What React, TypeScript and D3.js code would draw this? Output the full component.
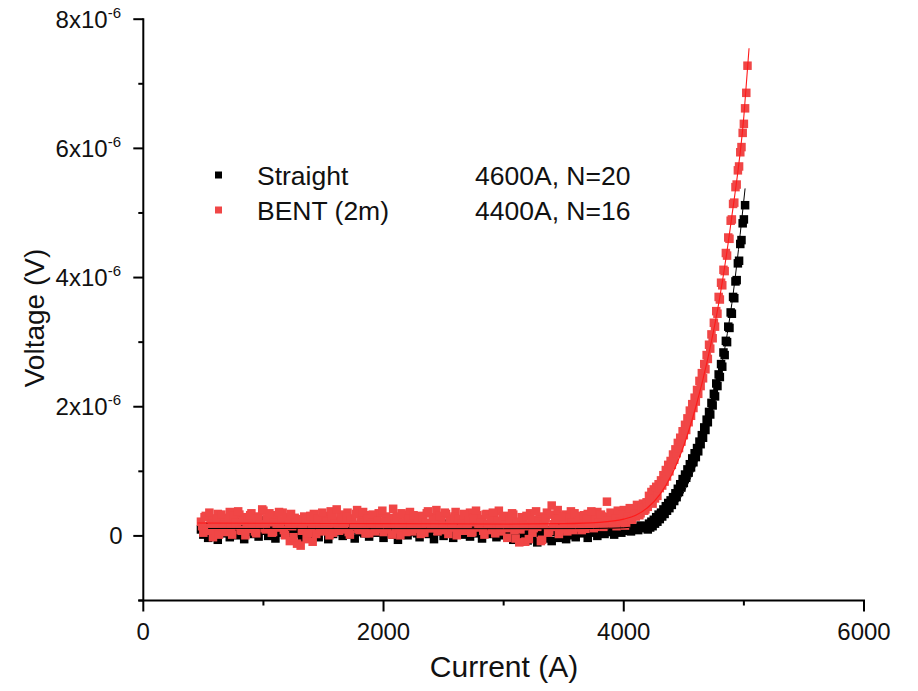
import React from "react";
import * as d3 from "d3";

// Sampling grid of the current sweep (A)
const lowCurrents: number[] = d3.range(480, 4200, 20);
const lowCurrents2: number[] = d3.range(490, 4200, 20);
const highCurrents: number[] = d3.range(4200, 5040, 10);

// Voltages in µV
const straightLow = [
  0.10, 0.02, 0.15, -0.03, 0.08, 0.20, 0.05, -0.06, 0.12, 0.04,
  0.18, 0.07, -0.02, 0.13, 0.22, 0.01, 0.09, 0.16, -0.05, 0.11,
  0.06, 0.19, 0.03, 0.14, -0.01, 0.24, 0.08, 0.12, 0.00, 0.17,
  0.10, -0.04, 0.15, 0.05, 0.21, 0.02, 0.11, 0.07, -0.07, 0.13,
  0.04, 0.18, -0.03, 0.09, 0.14, 0.01, 0.20, 0.06, 0.10, -0.02,
  0.16, 0.08, 0.12, -0.05, 0.19, 0.03, 0.11, 0.07, 0.23, 0.00,
  0.09, 0.14, 0.02, 0.17, -0.04, 0.10, 0.06, 0.21, 0.04, 0.13,
  -0.01, 0.11, 0.16, 0.05, 0.08, 0.19, -0.03, 0.12, 0.07, 0.15,
  0.02, 0.10, -0.06, 0.14, 0.09, 0.18, 0.01, 0.11, 0.06, 0.22,
  0.04, -0.02, 0.13, 0.08, 0.17, 0.03, 0.10, -0.05, 0.15, 0.07,
  0.12, 0.00, 0.19, 0.06, 0.09, -0.03, 0.14, 0.05, 0.11, 0.02,
  0.16, 0.08, -0.01, 0.13, 0.04, 0.20, 0.07, -0.04, 0.10, 0.15,
  0.03, 0.11, 0.06, -0.02, 0.17, 0.09, 0.01, 0.12, 0.05, 0.14,
  -0.06, 0.08, 0.02, -0.09, 0.10, 0.04, -0.07, 0.13, 0.00, 0.07,
  -0.10, 0.05, 0.11, -0.04, 0.02, 0.09, -0.08, 0.06, 0.14, -0.03,
  0.03, 0.10, -0.05, 0.08, 0.01, 0.12, -0.02, 0.06, 0.15, 0.04,
  0.09, -0.03, 0.11, 0.05, 0.14, 0.00, 0.08, 0.13, 0.03, 0.10,
  0.06, 0.12, 0.02, 0.09, 0.15, 0.05, 0.11, 0.08, 0.14, 0.07,
  0.10, 0.13, 0.09, 0.16, 0.12, 0.15,
];
const straightHigh = [
  0.10, 0.19, 0.13, 0.22, 0.15, 0.25, 0.19, 0.29, 0.22, 0.33,
  0.26, 0.36, 0.30, 0.41, 0.34, 0.46, 0.39, 0.51, 0.43, 0.55,
  0.48, 0.60, 0.54, 0.66, 0.60, 0.73, 0.68, 0.80, 0.75, 0.88,
  0.82, 0.95, 0.90, 1.03, 0.98, 1.11, 1.06, 1.20, 1.14, 1.28,
  1.22, 1.36, 1.31, 1.46, 1.42, 1.56, 1.52, 1.68, 1.64, 1.80,
  1.76, 1.92, 1.88, 2.06, 2.02, 2.20, 2.16, 2.36, 2.32, 2.50,
  2.46, 2.66, 2.62, 2.84, 2.80, 3.02, 3.00, 3.24, 3.22, 3.46,
  3.44, 3.70, 3.68, 3.94, 3.96, 4.22, 4.26, 4.52, 4.58, 4.84,
  4.90, 5.12,
];
const bentLow = [
  0.22, 0.05, 0.31, 0.12, 0.26, -0.02, 0.18, 0.34, 0.09, 0.21,
  0.28, 0.14, 0.37, 0.02, 0.24, 0.16, 0.33, 0.08, 0.29, 0.19,
  0.11, 0.35, 0.25, 0.04, 0.30, 0.17, 0.39, 0.10, 0.22, 0.27,
  0.06, 0.32, 0.20, 0.13, 0.36, 0.01, 0.24, -0.08, 0.15, 0.28,
  -0.12, 0.19, 0.08, 0.30, -0.05, 0.22, 0.12, 0.34, 0.03, 0.17,
  0.26, 0.07, 0.31, 0.14, 0.38, 0.05, 0.23, 0.18, 0.33, 0.10,
  0.20, 0.36, 0.02, 0.27, 0.15, 0.40, 0.09, 0.25, 0.13, 0.32,
  0.04, 0.21, 0.29, 0.11, 0.35, 0.17, 0.06, 0.30, 0.19, 0.24,
  0.42, 0.10, 0.26, 0.01, 0.33, 0.16, 0.22, 0.37, 0.07, 0.28,
  0.14, 0.31, 0.18, 0.05, 0.35, 0.20, 0.12, 0.29, 0.40, 0.09,
  0.23, 0.15, 0.34, 0.03, 0.27, 0.19, 0.37, 0.11, 0.25, 0.08,
  0.30, 0.17, 0.36, 0.06, 0.21, 0.32, 0.13, 0.26, 0.02, 0.34,
  0.18, 0.09, 0.28, 0.15, 0.39, 0.07, 0.24, 0.31, 0.12, 0.20,
  0.33, -0.04, 0.22, 0.10, 0.27, -0.09, 0.16, 0.35, 0.05, 0.25,
  0.14, 0.30, -0.06, 0.20, 0.36, 0.08, 0.47, 0.18, 0.29, 0.03,
  0.24, 0.12, 0.33, 0.17, 0.38, 0.09, 0.26, 0.15, 0.31, 0.21,
  0.11, 0.34, 0.19, 0.28, 0.14, 0.37, 0.22, 0.30, 0.17, 0.53,
  0.26, 0.20, 0.35, 0.15, 0.31, 0.24, 0.40, 0.19, 0.36, 0.28,
  0.42, 0.30, 0.47, 0.35, 0.50, 0.41,
];
const bentLow2 = [
  0.15, 0.29, 0.08, 0.36, 0.19, 0.11, 0.27, 0.02, 0.33, 0.17,
  0.06, 0.25, 0.13, 0.31, 0.20, 0.38, 0.09, 0.23, 0.01, 0.28,
  0.32, 0.16, 0.07, 0.27, 0.18, 0.41, 0.12, 0.26, 0.35, 0.05,
  0.21, 0.14, 0.37, 0.24, 0.09, 0.29, 0.18, 0.34, -0.02, 0.20,
  0.26, -0.15, 0.13, 0.24, 0.04, 0.31, -0.09, 0.18, 0.27, 0.10,
  0.36, 0.15, 0.22, 0.01, 0.29, 0.19, 0.41, 0.08, 0.24, 0.13,
  0.30, 0.06, 0.25, 0.17, 0.34, 0.11, 0.21, 0.37, 0.04, 0.26,
  0.18, 0.33, 0.07, 0.23, 0.14, 0.39, 0.22, 0.10, 0.28, 0.02,
  0.19, 0.30, 0.13, 0.35, 0.21, 0.06, 0.27, 0.16, 0.32, 0.11,
  0.24, 0.03, 0.29, 0.20, 0.38, 0.12, 0.25, 0.17, 0.07, 0.31,
  0.16, 0.36, 0.09, 0.22, 0.13, 0.30, 0.01, 0.26, 0.19, 0.34,
  0.10, 0.24, 0.05, 0.28, 0.39, 0.15, 0.21, 0.08, 0.33, 0.18,
  0.27, 0.36, 0.04, 0.23, 0.12, 0.30, 0.17, -0.03, 0.25, 0.35,
  0.09, 0.20, -0.10, 0.29, 0.15, 0.31, -0.05, 0.24, 0.12, 0.38,
  0.22, -0.08, 0.17, 0.27, 0.05, 0.33, 0.14, 0.26, 0.40, 0.11,
  0.30, 0.18, 0.07, 0.28, 0.21, 0.35, 0.13, 0.24, 0.09, 0.32,
  0.27, 0.16, 0.38, 0.12, 0.25, 0.20, 0.33, 0.14, 0.29, 0.23,
  0.36, 0.18, 0.27, 0.39, 0.22, 0.33, 0.16, 0.30, 0.43, 0.25,
  0.35, 0.48, 0.32, 0.44, 0.39, 0.52,
];
const bentHigh = [
  0.45, 0.62, 0.52, 0.68, 0.50, 0.72, 0.58, 0.76, 0.62, 0.80,
  0.74, 0.86, 0.78, 0.94, 0.84, 1.02, 0.92, 1.10, 1.00, 1.16,
  1.10, 1.26, 1.18, 1.34, 1.28, 1.44, 1.36, 1.52, 1.46, 1.62,
  1.56, 1.72, 1.64, 1.82, 1.76, 1.94, 1.86, 2.04, 1.98, 2.14,
  2.08, 2.26, 2.20, 2.40, 2.32, 2.52, 2.44, 2.66, 2.58, 2.80,
  2.74, 2.96, 2.90, 3.12, 3.06, 3.30, 3.24, 3.48, 3.44, 3.70,
  3.66, 3.92, 3.88, 4.12, 4.10, 4.38, 4.34, 4.62, 4.60, 4.88,
  4.90, 5.14, 5.16, 5.40, 5.44, 5.66, 5.72, 5.94, 6.02, 6.24,
  6.38, 6.62, 6.86, 7.28,
];

// Fit curves
const fitStraightI = [540, 1000, 2000, 3000, 3600, 3900, 4100, 4200, 4300, 4400, 4500, 4600, 4700, 4800, 4900, 5010];
const fitStraightV = [0.115, 0.115, 0.113, 0.112, 0.113, 0.12, 0.14, 0.17, 0.25, 0.40, 0.68, 1.1, 1.7, 2.5, 3.6, 5.38];
const fitBentI = [450, 1000, 2000, 3000, 3500, 3800, 4000, 4100, 4200, 4300, 4400, 4500, 4600, 4700, 4800, 4900, 5000, 5043];
const fitBentV = [0.20, 0.195, 0.19, 0.185, 0.19, 0.21, 0.26, 0.32, 0.44, 0.64, 0.95, 1.40, 2.0, 2.75, 3.7, 4.95, 6.5, 7.55];

const xMajor = [0, 2000, 4000, 6000];
const xMinor = [1000, 3000, 5000];
const yMajor = [0, 2, 4, 6, 8];
const yMinor = [-1, 1, 3, 5, 7];

const legendNames = ["Straight", "BENT (2m)"];
const legendNotes = ["4600A, N=20", "4400A, N=16"];

const W = 918;
const H = 691;
const FONT = "'Liberation Sans', Arial, Helvetica, sans-serif";
const RED = "#f04646";

export default function App() {
  const x = d3.scaleLinear().domain([0, 6000]).range([143.3, 864]);
  const y = d3.scaleLinear().domain([-1, 8]).range([600.5, 19.2]);

  const toPts = (cur: number[], v: number[]) => v.map((val, i) => [cur[i], val] as [number, number]);
  const straight = [...toPts(lowCurrents, straightLow), ...toPts(highCurrents, straightHigh)];
  const bent = [
    ...toPts(lowCurrents, bentLow),
    ...toPts(lowCurrents2, bentLow2),
    ...toPts(highCurrents, bentHigh),
  ];

  const line = d3
    .line<[number, number]>()
    .x((d) => x(d[0]))
    .y((d) => y(d[1]))
    .curve(d3.curveMonotoneX);
  const fitS = line(fitStraightI.map((c, i) => [c, fitStraightV[i]] as [number, number])) || "";
  const fitB = line(fitBentI.map((c, i) => [c, fitBentV[i]] as [number, number])) || "";

  const ms = 8.5;
  const x0 = x(0);
  const yb = y(-1);

  return (
    <svg
      width={W}
      height={H}
      style={{ position: "absolute", left: 0, top: 0, background: "#fff" }}
      fontFamily={FONT}
    >
      <rect x={0} y={0} width={W} height={H} fill="#fff" />
      {/* data */}
      <g>
        {straight.map((d, i) => (
          <rect key={"s" + i} x={x(d[0]) - ms / 2} y={y(d[1]) - ms / 2} width={ms} height={ms} fill="#000" />
        ))}
      </g>
      <g>
        {bent.map((d, i) => (
          <rect key={"b" + i} x={x(d[0]) - ms / 2} y={y(d[1]) - ms / 2} width={ms} height={ms} fill={RED} />
        ))}
      </g>
      <path d={fitS} fill="none" stroke="#000" strokeWidth={1} />
      <path d={fitB} fill="none" stroke="#ff1a1a" strokeWidth={1.1} />

      {/* axes */}
      <line x1={x0} x2={x0} y1={y(8) - 1} y2={yb} stroke="#000" strokeWidth={2} />
      <line x1={x0 - 5} x2={x(6000) + 1} y1={yb} y2={yb} stroke="#000" strokeWidth={2} />
      {yMajor.map((v) => (
        <line key={"ym" + v} x1={x0 - 10} x2={x0} y1={y(v)} y2={y(v)} stroke="#000" strokeWidth={2} />
      ))}
      {yMinor.map((v) => (
        <line key={"yn" + v} x1={x0 - 5} x2={x0} y1={y(v)} y2={y(v)} stroke="#000" strokeWidth={2} />
      ))}
      {xMajor.map((v) => (
        <line key={"xm" + v} x1={x(v)} x2={x(v)} y1={yb} y2={yb + 11} stroke="#000" strokeWidth={2} />
      ))}
      {xMinor.map((v) => (
        <line key={"xn" + v} x1={x(v)} x2={x(v)} y1={yb} y2={yb + 5} stroke="#000" strokeWidth={2} />
      ))}

      {/* tick labels */}
      {xMajor.map((v) => (
        <text key={"xl" + v} x={x(v)} y={639.5} fontSize={24} textAnchor="middle" fill="#111">
          {String(v)}
        </text>
      ))}
      {yMajor.map((v) =>
        v === 0 ? (
          <text key={"yl" + v} x={122.5} y={y(v) + 8.5} fontSize={24} textAnchor="end" fill="#111">
            0
          </text>
        ) : (
          <text key={"yl" + v} x={121} y={y(v) + 8.5} fontSize={24} textAnchor="end" fill="#111">
            {v + "x10"}
            <tspan fontSize={15} dy={-10}>
              -6
            </tspan>
          </text>
        )
      )}

      {/* axis titles */}
      <text x={504} y={677} fontSize={30} textAnchor="middle" fill="#111">
        Current (A)
      </text>
      <text
        transform={`translate(44,318) rotate(-90)`}
        fontSize={28}
        textAnchor="middle"
        fill="#111"
      >
        Voltage (V)
      </text>

      {/* legend */}
      {legendNames.map((n, i) => (
        <g key={"lg" + i}>
          <rect x={218.5 - 3.5} y={175 + i * 35 - 3.5} width={7} height={7} fill={i === 0 ? "#000" : RED} />
          <text x={257} y={185 + i * 35} fontSize={26.5} fill="#111">
            {n}
          </text>
          <text x={475} y={185 + i * 35} fontSize={26.5} fill="#111">
            {legendNotes[i]}
          </text>
        </g>
      ))}
    </svg>
  );
}
